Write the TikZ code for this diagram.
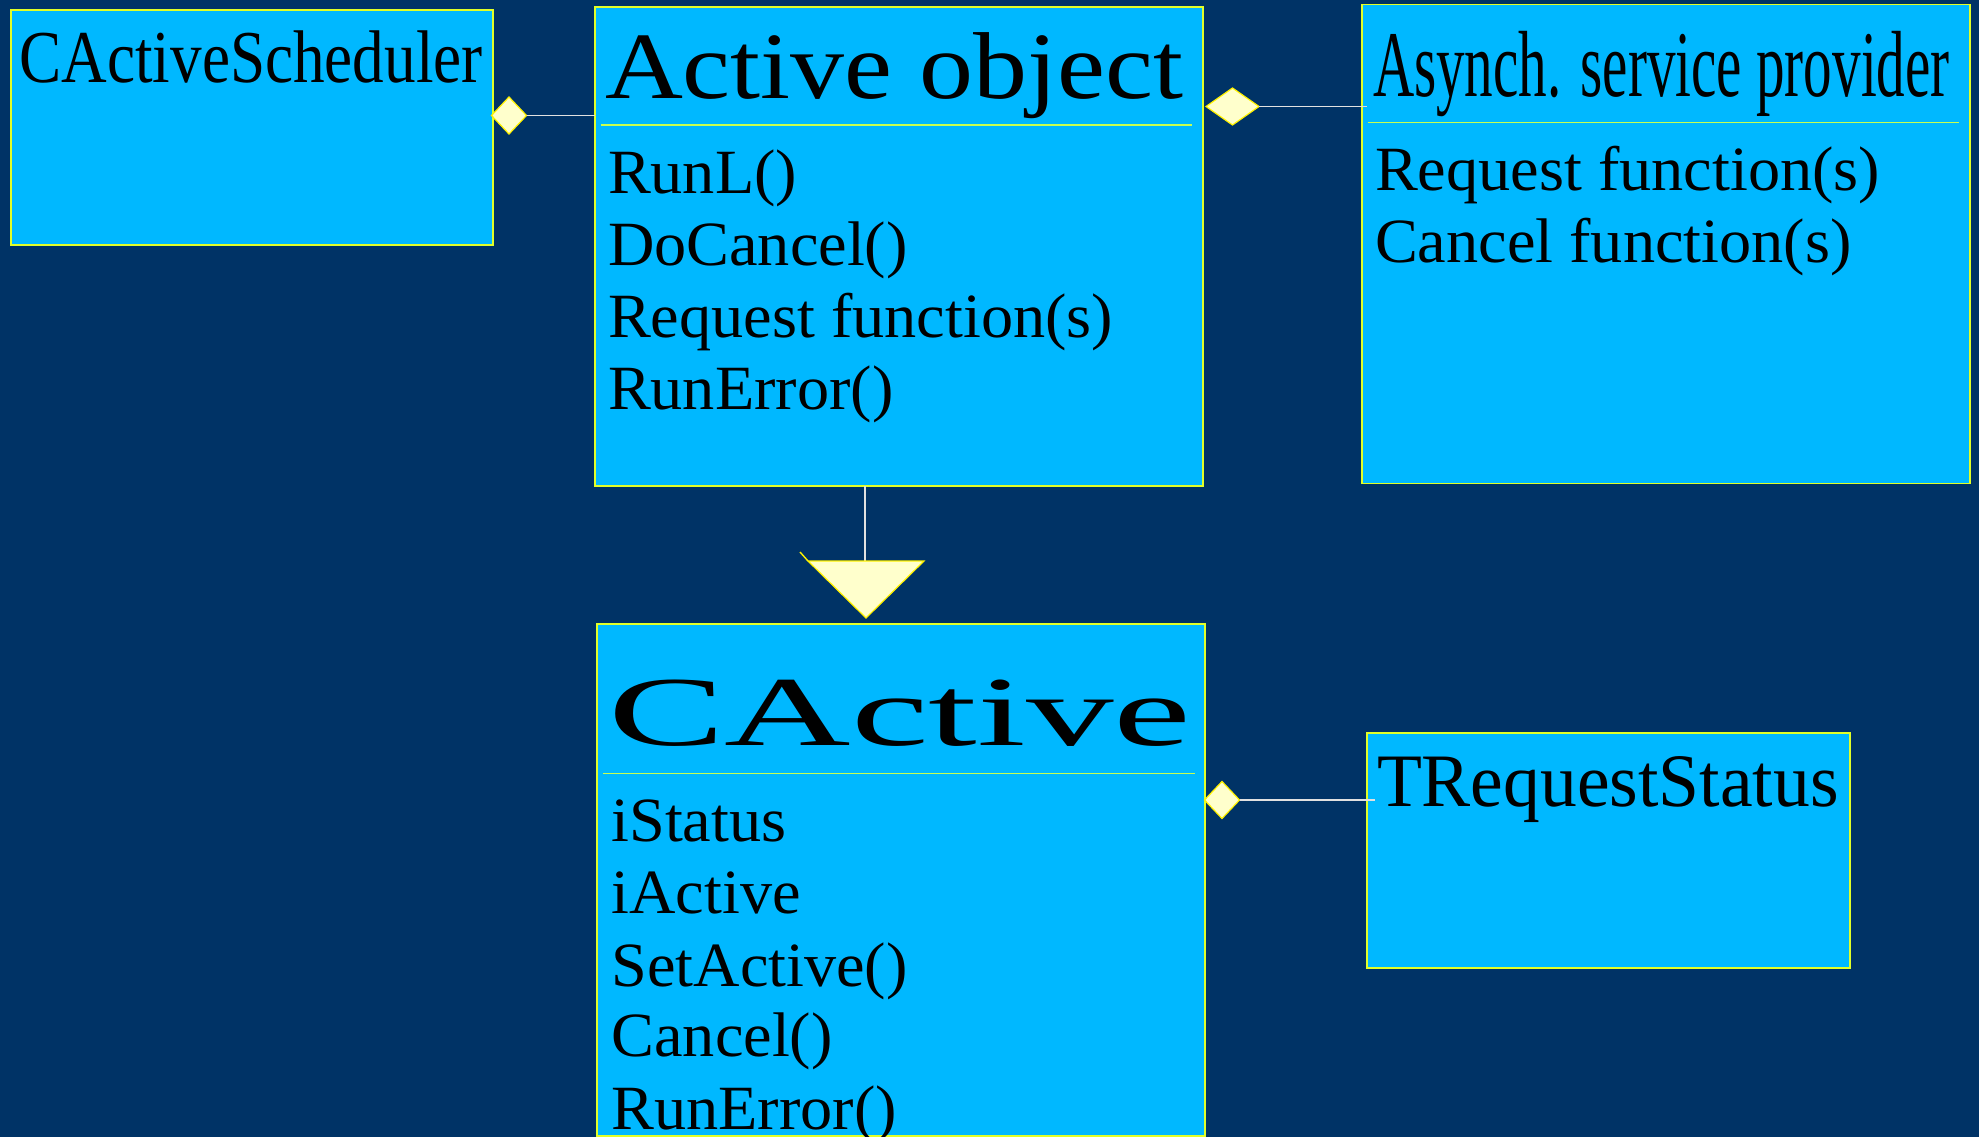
\documentclass[tikz,border=0pt]{standalone}
\usepackage{fontspec}
\setmainfont{Liberation Serif}
\usetikzlibrary{shapes.geometric}
\definecolor{bg}{RGB}{0,51,102}
\definecolor{boxfill}{RGB}{0,184,255}
\definecolor{boxline}{RGB}{225,255,40}
\definecolor{sepline}{RGB}{200,255,80}
\definecolor{dfill}{RGB}{255,255,204}
\definecolor{connc}{RGB}{225,225,225}
\newcommand{\itm}[1]{\scalebox{1.02}[1]{#1}}
\tikzset{
  umlbox/.style={draw=boxline, fill=boxfill, line width=1.3pt, inner sep=0pt, outer sep=0pt},
  sepl/.style={draw=sepline, line width=1.3pt},
  agg/.style={diamond, draw=yellow, fill=dfill, line width=1.2pt, inner sep=0pt, outer sep=0pt},
  connline/.style={draw=connc, line width=1.6pt},
  txt/.style={anchor=base west, inner sep=0pt, outer sep=0pt, text=black},
  item/.style={txt, font=\fontsize{63pt}{63pt}\selectfont}
}
\begin{document}
\begin{tikzpicture}[x=1pt,y=-1pt]
\fill[bg] (0,0) rectangle (1979,1137);
\useasboundingbox (0,0) rectangle (1979,1137);

% boxes
\node[umlbox, minimum width=482pt, minimum height=235pt] (sched) at (252,127.5) {};
\node[umlbox, minimum width=608pt, minimum height=479pt] (ao) at (899,246.5) {};
\node[umlbox, minimum width=608pt, minimum height=479pt] (asy) at (1666,243.7) {};
\node[umlbox, minimum width=608pt, minimum height=512pt] (ca) at (901,880) {};
\node[umlbox, minimum width=483pt, minimum height=235pt] (trs) at (1608.5,850.5) {};

% separators
\draw[sepl] (600.5,125) -- (1192,125);
\draw[sepl] (1367.5,122.3) -- (1959,122.3);
\draw[sepl] (603,773.3) -- (1195,773.3);

% titles
\node[txt, font=\fontsize{74.6pt}{75pt}\selectfont] (schedT) at (19.5,82.7) {\scalebox{0.847}[1]{CActiveScheduler}};
\node[txt, font=\fontsize{95pt}{95pt}\selectfont] (aoT) at (605,99) {\scalebox{1.136}[1]{Active object}};
\node[txt, font=\fontsize{94pt}{94pt}\selectfont] (asyT) at (1373,96.7) {\scalebox{0.607}[1]{Asynch. service provider}};
\node[txt, font=\fontsize{99pt}{99pt}\selectfont] (caT) at (608,745) {\scalebox{1.768}[1]{CActive}};
\node[txt, font=\fontsize{75.5pt}{75.5pt}\selectfont] (trsT) at (1377,806.7) {\scalebox{0.974}[1]{TRequestStatus}};

% Active object members
\node[item] (ao1) at (608,193.3) {\itm{RunL()}};
\node[item] (ao2) at (608,265) {\itm{DoCancel()}};
\node[item] (ao3) at (608,337.3) {\itm{Request function(s)}};
\node[item] (ao4) at (608,409.3) {\itm{RunError()}};

% Asynch members
\node[item] (asy1) at (1375,190) {\itm{Request function(s)}};
\node[item] (asy2) at (1375,262.7) {\itm{Cancel function(s)}};

% CActive members
\node[item] (ca1) at (611.5,841.7) {\itm{iStatus}};
\node[item] (ca2) at (611.5,913.3) {\itm{iActive}};
\node[item] (ca3) at (611.5,986) {\itm{SetActive()}};
\node[item] (ca4) at (611.5,1056.7) {\itm{Cancel()}};
\node[item] (ca5) at (611.5,1129.3) {\itm{RunError()}};

% aggregation diamonds and connectors
\node[agg, minimum width=35pt, minimum height=37pt] (d1) at (509,115.5) {};
\node[agg, minimum width=53pt, minimum height=37pt] (d2) at (1232.5,106.5) {};
\node[agg, minimum width=35pt, minimum height=37pt] (d3) at (1222,800) {};
\draw[connline] (d1.east) -- (d1.east -| ao.west);
\draw[connline] (d2.east) -- ([xshift=5pt]d2.east -| asy.west);
\draw[connline] (d3.east) -- ([xshift=8pt]d3.east -| trs.west);

% generalisation
\coordinate (tritop) at (865,561);
\coordinate (trileft) at (808,561);
\coordinate (triright) at (924,561);
\coordinate (triapex) at (866,618);
\draw[connline] (ao.south -| tritop) -- (tritop);
\draw[draw=yellow, fill=dfill, line width=1.2pt, line join=miter] (trileft) -- (triright) -- (triapex) -- cycle;
\draw[draw=yellow, line width=1.4pt] (800,552) -- (trileft);
\end{tikzpicture}
\end{document}
